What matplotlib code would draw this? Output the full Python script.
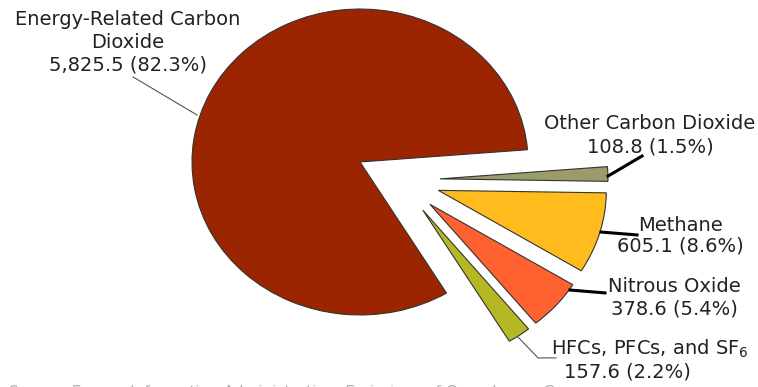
import matplotlib.pyplot as plt

# U.S. greenhouse gas emissions by gas (million metric tons CO2 equivalent)
gases = ["Energy-Related Carbon\nDioxide", "HFCs, PFCs, and SF$_6$", "Nitrous Oxide",
         "Methane", "Other Carbon Dioxide"]
emissions = [5825.5, 157.6, 378.6, 605.1, 108.8]
shares = [82.3, 2.2, 5.4, 8.6, 1.5]
colors = ["#9a2500", "#b5b824", "#ff6230", "#ffbc1c", "#9c9c6a"]

fig = plt.figure(figsize=(7.58, 3.87), dpi=100)
ax = fig.add_axes([0, 0, 1, 1])

wp = dict(edgecolor="#333333", linewidth=0.8)
start = 4.6

# main pie: only the energy CO2 slice is kept
big, _ = ax.pie(emissions, colors=colors, startangle=start, wedgeprops=wp)
for w in big[1:]:
    w.set_visible(False)

# the small gases pulled out as a group, then spread apart
small, _ = ax.pie(emissions, colors=colors, startangle=start, wedgeprops=wp,
                  center=(0.236, -0.118), explode=[0, 0.24, 0.24, 0.24, 0.24])
small[0].set_visible(False)

ax.set_aspect("auto")
ax.set_xlim(-2.143, 2.369)
ax.set_ylim(-1.471, 1.059)
ax.axis("off")

font = dict(family="DejaVu Sans", fontsize=14, color="#222222")

def lbl(i):
    return f"{emissions[i]:,.1f} ({shares[i]:.1f}%)"

ax.text(-1.381, 0.784, gases[0] + "\n" + lbl(0), ha="center", va="center",
        linespacing=1.25, **font)
ax.plot([-1.351, -0.970], [0.556, 0.307], color="#555555", lw=0.8)

ax.text(1.726, 0.176, gases[4] + "\n" + lbl(4), ha="center", va="center",
        linespacing=1.3, **font)
ax.plot([1.476, 1.679], [-0.092, 0.039], color="black", lw=2.2)

ax.text(1.905, -0.480, gases[3] + "\n" + lbl(3), ha="center", va="center",
        linespacing=1.1, **font)
ax.plot([1.435, 1.649], [-0.458, -0.477], color="black", lw=2.2)

ax.text(1.869, -0.886, gases[2] + "\n" + lbl(2), ha="center", va="center",
        linespacing=1.2, **font)
ax.plot([1.250, 1.458], [-0.837, -0.856], color="black", lw=2.2)

ax.text(1.726, -1.222, gases[1], ha="center", va="center", **font)
ax.text(1.589, -1.373, lbl(1), ha="center", va="center", **font)
ax.plot([0.940, 1.060, 1.167], [-1.144, -1.281, -1.281], color="#555555", lw=0.8)

# source note, cropped at the bottom edge
fig.text(0.012, 0.006, "Source: Energy Information Administration, Emissions of Greenhouse Gases",
         ha="left", va="top", fontsize=11, color="#b0b0b0", family="DejaVu Sans")

fig.savefig("out.png", dpi=100)
